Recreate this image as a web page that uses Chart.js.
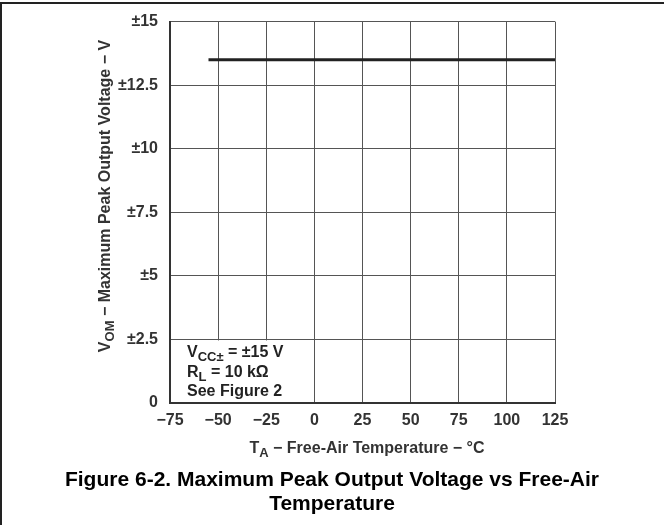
<!DOCTYPE html>
<html lang="en">

<head>
    <meta charset="UTF-8">
    <script src="https://cdn.jsdelivr.net/npm/chart.js"></script>
    <title>Maximum Peak Output Voltage vs Free-Air Temperature</title>
    <style>
        body { margin: 0; background: #fff; }
        #wrap { width: 664px; height: 525px; position: relative; }
    </style>
</head>

<body>
    <div id="wrap">
        <canvas id="vomChart" width="664" height="525"></canvas>
    </div>

    <script>
        // data
        const temps = [-55, 125];
        const vom = [13.5, 13.5];
        const xTicks = [-75, -50, -25, 0, 25, 50, 75, 100, 125];
        const yTicks = [0, 2.5, 5, 7.5, 10, 12.5, 15];

        const FONT = '"Liberation Sans", Arial, sans-serif';

        // draws a string made of [text, isSubscript] parts
        function drawParts(ctx, parts, x, y, size) {
            let cx = x;
            parts.forEach(([t, sub]) => {
                ctx.font = 'bold ' + (sub ? Math.round(size * 0.8) : size) + 'px ' + FONT;
                ctx.fillText(t, cx, sub ? y + 4 : y);
                cx += ctx.measureText(t).width;
            });
            return cx - x;
        }
        function partsWidth(ctx, parts, size) {
            let w = 0;
            parts.forEach(([t, sub]) => {
                ctx.font = 'bold ' + (sub ? Math.round(size * 0.8) : size) + 'px ' + FONT;
                w += ctx.measureText(t).width;
            });
            return w;
        }

        const extras = {
            id: 'extras',
            beforeDatasetsDraw(chart) {
                // white conditions box hides the grid in the lower left corner
                const ctx = chart.ctx;
                const x = chart.scales.x, y = chart.scales.y;
                const l = x.getPixelForValue(-75) + 1, r = x.getPixelForValue(0) - 1;
                const t = y.getPixelForValue(2.5) + 1, b = y.getPixelForValue(0) - 1;
                ctx.save();
                ctx.fillStyle = '#fff';
                ctx.fillRect(l, t, r - l, b - t);
                ctx.restore();
            },
            afterDraw(chart) {
                const ctx = chart.ctx;
                ctx.save();
                ctx.textBaseline = 'alphabetic';
                ctx.textAlign = 'left';

                // outer frame
                ctx.strokeStyle = '#222';
                ctx.lineWidth = 2;
                ctx.beginPath();
                ctx.moveTo(1, 525);
                ctx.lineTo(1, 3);
                ctx.lineTo(664, 3);
                ctx.stroke();

                // conditions
                ctx.fillStyle = '#222';
                drawParts(ctx, [['V', false], ['CC±', true], [' = ±15 V', false]], 187, 357, 16);
                drawParts(ctx, [['R', false], ['L', true], [' = 10 kΩ', false]], 187, 377, 16);
                drawParts(ctx, [['See Figure 2', false]], 187, 396, 16);

                // x axis title
                ctx.fillStyle = '#333';
                const xt = [['T', false], ['A', true], [' − Free-Air Temperature − °C', false]];
                const xw = partsWidth(ctx, xt, 16);
                drawParts(ctx, xt, 367 - xw / 2, 453, 16);

                // y axis title (rotated)
                const yt = [['V', false], ['OM', true], [' − Maximum Peak Output Voltage − V', false]];
                const yw = partsWidth(ctx, yt, 16);
                ctx.translate(110, 196);
                ctx.rotate(-Math.PI / 2);
                drawParts(ctx, yt, -yw / 2, 0, 16);
                ctx.restore();

                // caption
                ctx.save();
                ctx.fillStyle = '#000';
                ctx.textAlign = 'center';
                ctx.font = 'bold 21px ' + FONT;
                ctx.fillText('Figure 6-2. Maximum Peak Output Voltage vs Free-Air', 332, 486);
                ctx.fillText('Temperature', 332, 510);
                ctx.restore();
            }
        };

        new Chart(document.getElementById('vomChart'), {
            type: 'line',
            data: {
                datasets: [{
                    data: temps.map((t, i) => ({ x: t, y: vom[i] })),
                    borderColor: '#222',
                    borderWidth: 3,
                    pointRadius: 0,
                    fill: false
                }]
            },
            options: {
                responsive: false,
                animation: false,
                layout: { padding: { left: 0, top: 17, right: 109, bottom: 92 } },
                plugins: { legend: { display: false }, tooltip: { enabled: false } },
                scales: {
                    x: {
                        type: 'linear',
                        min: -75,
                        max: 125,
                        afterBuildTicks: (s) => { s.ticks = xTicks.map(v => ({ value: v })); },
                        afterFit: (s) => { s.height = 30; },
                        grid: { color: '#555', lineWidth: 1, drawTicks: false },
                        border: { color: '#333', width: 2 },
                        ticks: {
                            padding: 8,
                            color: '#333',
                            font: { family: FONT, size: 16, weight: 'bold' },
                            callback: (v) => v < 0 ? '−' + Math.abs(v) : String(v)
                        }
                    },
                    y: {
                        min: 0,
                        max: 15,
                        afterBuildTicks: (s) => { s.ticks = yTicks.map(v => ({ value: v })); },
                        afterFit: (s) => { s.width = 170; },
                        grid: { color: '#555', lineWidth: 1, drawTicks: false },
                        border: { color: '#333', width: 2 },
                        ticks: {
                            padding: 12,
                            color: '#333',
                            font: { family: FONT, size: 16, weight: 'bold' },
                            callback: (v) => v === 0 ? '0' : '±' + v
                        }
                    }
                }
            },
            plugins: [extras]
        });
    </script>
</body>

</html>
